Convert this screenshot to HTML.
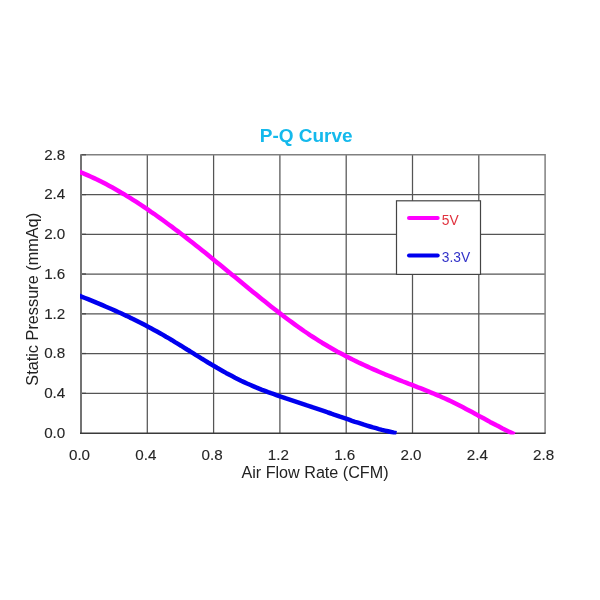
<!DOCTYPE html>
<html><head><meta charset="utf-8"><title>P-Q Curve</title>
<style>
html,body{margin:0;padding:0;background:#fff;}
body{width:600px;height:600px;overflow:hidden;}
svg{display:block;font-family:"Liberation Sans",Arial,sans-serif;filter:blur(0.35px);}
</style></head><body>
<svg width="600" height="600" viewBox="0 0 600 600">
<defs><clipPath id="c"><rect x="80" y="150" width="470" height="284.6"/></clipPath></defs>
<rect width="600" height="600" fill="#fff"/>
<text x="306.2" y="142" text-anchor="middle" font-size="19" font-weight="bold" fill="#14b9ec">P-Q Curve</text>
<g stroke="#555" stroke-width="1.25" fill="none">
<line x1="147.3" y1="154.8" x2="147.3" y2="433.0"/>
<line x1="213.6" y1="154.8" x2="213.6" y2="433.0"/>
<line x1="279.9" y1="154.8" x2="279.9" y2="433.0"/>
<line x1="346.2" y1="154.8" x2="346.2" y2="433.0"/>
<line x1="412.5" y1="154.8" x2="412.5" y2="433.0"/>
<line x1="478.8" y1="154.8" x2="478.8" y2="433.0"/>
<line x1="81.0" y1="393.3" x2="545.1" y2="393.3"/>
<line x1="81.0" y1="353.5" x2="545.1" y2="353.5"/>
<line x1="81.0" y1="313.8" x2="545.1" y2="313.8"/>
<line x1="81.0" y1="274.0" x2="545.1" y2="274.0"/>
<line x1="81.0" y1="234.3" x2="545.1" y2="234.3"/>
<line x1="81.0" y1="194.6" x2="545.1" y2="194.6"/>
</g>
<path d="M81.0,154.8 H545.1 V433.0" stroke="#808080" stroke-width="1.5" fill="none"/>
<g stroke="#444" stroke-width="1.2" fill="none">
<line x1="81.0" y1="393.3" x2="86.0" y2="393.3"/>
<line x1="81.0" y1="353.5" x2="86.0" y2="353.5"/>
<line x1="81.0" y1="313.8" x2="86.0" y2="313.8"/>
<line x1="81.0" y1="274.0" x2="86.0" y2="274.0"/>
<line x1="81.0" y1="234.3" x2="86.0" y2="234.3"/>
<line x1="81.0" y1="194.6" x2="86.0" y2="194.6"/>
<line x1="81.0" y1="154.8" x2="86.0" y2="154.8"/>
</g>
<line x1="81" y1="154.2" x2="81" y2="433.7" stroke="#737373" stroke-width="2"/>
<line x1="80" y1="433.2" x2="545.7" y2="433.2" stroke="#3a3a3a" stroke-width="1.5"/>
<g font-size="15.2" fill="#262626" stroke="#262626" stroke-width="0.12" text-anchor="middle">
<text x="79.5" y="460">0.0</text>
<text x="145.8" y="460">0.4</text>
<text x="212.1" y="460">0.8</text>
<text x="278.4" y="460">1.2</text>
<text x="344.7" y="460">1.6</text>
<text x="411.0" y="460">2.0</text>
<text x="477.3" y="460">2.4</text>
<text x="543.6" y="460">2.8</text>
</g>
<g font-size="15.2" fill="#262626" stroke="#262626" stroke-width="0.12" text-anchor="end">
<text x="65.3" y="437.7">0.0</text>
<text x="65.3" y="398.0">0.4</text>
<text x="65.3" y="358.2">0.8</text>
<text x="65.3" y="318.5">1.2</text>
<text x="65.3" y="278.7">1.6</text>
<text x="65.3" y="239.0">2.0</text>
<text x="65.3" y="199.3">2.4</text>
<text x="65.3" y="159.5">2.8</text>
</g>
<text x="315" y="478" font-size="16.15" fill="#222" text-anchor="middle">Air Flow Rate (CFM)</text>
<text transform="translate(38.1,299.3) rotate(-90)" font-size="16.3" fill="#222" text-anchor="middle">Static Pressure (mmAq)</text>
<path clip-path="url(#c)" d="M79.0,171.6 L82.0,172.8 L85.0,174.1 L88.0,175.4 L91.0,176.7 L94.0,178.1 L97.0,179.5 L100.0,181.0 L103.0,182.5 L106.0,184.1 L109.0,185.7 L112.0,187.3 L115.0,189.0 L118.0,190.7 L121.0,192.5 L124.0,194.2 L127.0,196.1 L130.0,197.9 L133.0,199.8 L136.0,201.7 L139.0,203.7 L142.0,205.6 L145.0,207.7 L148.0,209.7 L151.0,211.8 L154.0,213.8 L157.0,216.0 L160.0,218.1 L163.0,220.3 L166.0,222.5 L169.0,224.7 L172.0,226.9 L175.0,229.2 L178.0,231.4 L181.0,233.7 L184.0,236.1 L187.0,238.4 L190.0,240.7 L193.0,243.1 L196.0,245.5 L199.0,247.8 L202.0,250.2 L205.0,252.6 L208.0,255.1 L211.0,257.5 L214.0,259.9 L217.0,262.4 L220.0,264.8 L223.0,267.3 L226.0,269.7 L229.0,272.2 L232.0,274.7 L235.0,277.1 L238.0,279.6 L241.0,282.1 L244.0,284.5 L247.0,287.0 L250.0,289.4 L253.0,291.9 L256.0,294.3 L259.0,296.8 L262.0,299.2 L265.0,301.6 L268.0,304.0 L271.0,306.4 L274.0,308.7 L277.0,311.1 L280.0,313.4 L283.0,315.7 L286.0,318.0 L289.0,320.2 L292.0,322.4 L295.0,324.6 L298.0,326.8 L301.0,328.9 L304.0,331.0 L307.0,333.0 L310.0,335.1 L313.0,337.0 L316.0,338.9 L319.0,340.8 L322.0,342.7 L325.0,344.5 L328.0,346.3 L331.0,348.0 L334.0,349.7 L337.0,351.4 L340.0,353.0 L343.0,354.6 L346.0,356.2 L349.0,357.7 L352.0,359.3 L355.0,360.7 L358.0,362.2 L361.0,363.6 L364.0,365.0 L367.0,366.4 L370.0,367.8 L373.0,369.1 L376.0,370.4 L379.0,371.7 L382.0,373.0 L385.0,374.3 L388.0,375.5 L391.0,376.7 L394.0,377.9 L397.0,379.1 L400.0,380.3 L403.0,381.5 L406.0,382.6 L409.0,383.8 L412.0,384.9 L415.0,386.1 L418.0,387.3 L421.0,388.4 L424.0,389.6 L427.0,390.8 L430.0,392.1 L433.0,393.3 L436.0,394.6 L439.0,395.8 L442.0,397.2 L445.0,398.5 L448.0,399.9 L451.0,401.3 L454.0,402.8 L457.0,404.3 L460.0,405.8 L463.0,407.3 L466.0,408.9 L469.0,410.5 L472.0,412.1 L475.0,413.7 L478.0,415.4 L481.0,417.0 L484.0,418.6 L487.0,420.2 L490.0,421.9 L493.0,423.5 L496.0,425.1 L499.0,426.6 L502.0,428.2 L505.0,429.7 L508.0,431.2 L511.0,432.6 L514.0,434.0 L514.5,434.3" fill="none" stroke="#ff00ff" stroke-width="4.5" stroke-linejoin="round"/>
<path clip-path="url(#c)" d="M79.0,295.6 L82.0,296.8 L85.0,298.0 L88.0,299.2 L91.0,300.4 L94.0,301.6 L97.0,302.9 L100.0,304.1 L103.0,305.4 L106.0,306.7 L109.0,308.0 L112.0,309.3 L115.0,310.6 L118.0,312.0 L121.0,313.3 L124.0,314.7 L127.0,316.1 L130.0,317.6 L133.0,319.0 L136.0,320.5 L139.0,322.0 L142.0,323.5 L145.0,325.1 L148.0,326.7 L151.0,328.3 L154.0,329.9 L157.0,331.5 L160.0,333.2 L163.0,334.9 L166.0,336.7 L169.0,338.4 L172.0,340.2 L175.0,342.1 L178.0,343.9 L181.0,345.7 L184.0,347.6 L187.0,349.5 L190.0,351.3 L193.0,353.2 L196.0,355.1 L199.0,356.9 L202.0,358.8 L205.0,360.6 L208.0,362.5 L211.0,364.3 L214.0,366.0 L217.0,367.8 L220.0,369.5 L223.0,371.2 L226.0,372.9 L229.0,374.5 L232.0,376.1 L235.0,377.7 L238.0,379.2 L241.0,380.7 L244.0,382.1 L247.0,383.5 L250.0,384.8 L253.0,386.1 L256.0,387.4 L259.0,388.6 L262.0,389.8 L265.0,390.9 L268.0,392.1 L271.0,393.2 L274.0,394.2 L277.0,395.3 L280.0,396.3 L283.0,397.3 L286.0,398.4 L289.0,399.4 L292.0,400.4 L295.0,401.4 L298.0,402.4 L301.0,403.4 L304.0,404.4 L307.0,405.4 L310.0,406.3 L313.0,407.4 L316.0,408.4 L319.0,409.4 L322.0,410.4 L325.0,411.4 L328.0,412.5 L331.0,413.5 L334.0,414.6 L337.0,415.6 L340.0,416.7 L343.0,417.7 L346.0,418.7 L349.0,419.7 L352.0,420.8 L355.0,421.8 L358.0,422.7 L361.0,423.7 L364.0,424.7 L367.0,425.6 L370.0,426.5 L373.0,427.4 L376.0,428.2 L379.0,429.1 L382.0,429.9 L385.0,430.6 L388.0,431.3 L391.0,432.0 L394.0,432.7 L396.5,433.2" fill="none" stroke="#0000ee" stroke-width="4.5" stroke-linejoin="round"/>
<rect x="396.5" y="200.8" width="84" height="73.6" fill="#fff" stroke="#444" stroke-width="1.2"/>
<line x1="409" y1="218.1" x2="437.7" y2="218.1" stroke="#ff00ff" stroke-width="4" stroke-linecap="round"/>
<line x1="409" y1="255.6" x2="437.7" y2="255.6" stroke="#0000ee" stroke-width="4" stroke-linecap="round"/>
<text x="441.8" y="224.6" font-size="13.8" fill="#e0323e">5V</text>
<text x="441.8" y="261.6" font-size="13.8" fill="#3232c8">3.3V</text>
</svg>
</body></html>
